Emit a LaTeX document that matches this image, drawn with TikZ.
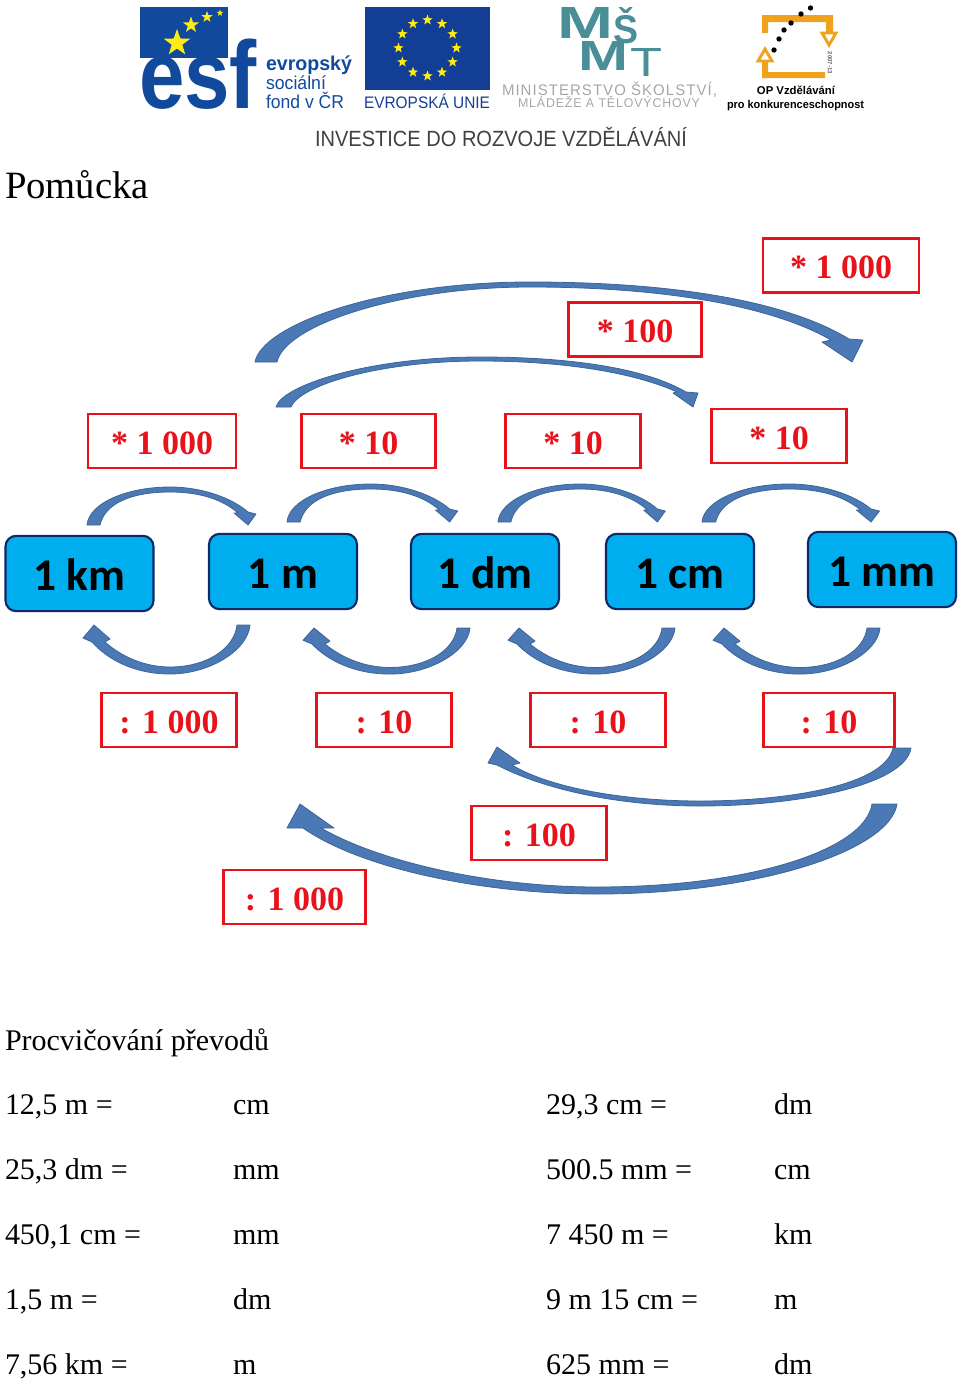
\documentclass[tikz,border=0pt]{standalone}
\usepackage{fontspec}
\usepackage{graphicx}
\setmainfont{Liberation Serif}
\newfontfamily\lsans{Liberation Sans}
\newfontfamily\lsansw[LetterSpace=7]{Liberation Sans}
\newfontfamily\carl{Carlito}
\usetikzlibrary{calc}
\definecolor{esfblue}{HTML}{114A9C}
\definecolor{eublue}{HTML}{123F95}
\definecolor{starY}{HTML}{FFEB14}
\definecolor{msmt}{HTML}{4A8F98}
\definecolor{opor}{HTML}{EFA21E}
\definecolor{arrowfill}{HTML}{4A79B6}
\definecolor{arrowedge}{HTML}{3D6596}
\definecolor{unitfill}{HTML}{00AEEF}
\definecolor{unitedge}{HTML}{0B2A66}
\definecolor{labred}{HTML}{E8121A}
\newcommand{\fs}[1]{\fontsize{#1}{#1}\selectfont}
\newcommand{\fitw}[2]{\resizebox{\dimexpr #1pt*3/4\relax}{\height}{#2}}
\newcommand{\fitwh}[3]{\resizebox{\dimexpr #1pt*3/4\relax}{\dimexpr #2pt*3/4\relax}{#3}}
\newcommand{\estar}[4]{\fill[#4,shift={(#1,#2)}] (-90:#3) -- (-54:{.4*#3}) -- (-18:#3) -- (18:{.4*#3}) -- (54:#3) -- (90:{.4*#3}) -- (126:#3) -- (162:{.4*#3}) -- (198:#3) -- (234:{.4*#3}) -- cycle;}
\newcommand{\arcup}[2]{\begin{scope}[shift={(#1)},xscale=#2]
\filldraw[bluearrow] (0,0) .. controls (2,-22) and (40,-38) .. (83,-38) .. controls (115,-38) and (145,-27) .. (161,-13) -- (169,-11) -- (161,0) -- (147,-12) -- (151,-12) .. controls (135,-26) and (112,-33) .. (83,-33) .. controls (45,-33) and (18,-22) .. (13,0) -- cycle;
\end{scope}}
\newcommand{\arcdown}[2]{\begin{scope}[shift={(#1)},yscale=#2]
\filldraw[bluearrow] (0,0) .. controls (-2,25) and (-40,49) .. (-80,49) .. controls (-115,49) and (-142,35) .. (-158,17) -- (-167,13) -- (-156,0) -- (-140,14) -- (-145,17) .. controls (-128,32) and (-105,42) .. (-80,42) .. controls (-45,42) and (-16,25) .. (-13,0) -- cycle;
\end{scope}}
\tikzset{
 bluearrow/.style={fill=arrowfill,draw=arrowedge,line width=0.6pt,line join=round},
 unitbox/.style={draw=unitedge,fill=unitfill,line width=1.6pt,rounded corners=8pt,minimum width=111pt,minimum height=56.5pt,inner sep=0pt,text=black,font=\carl\bfseries\fs{34},text height=24.8pt,text depth=0pt},
 opbox/.style={draw=labred,line width=2.2pt,inner sep=0pt,text=labred,font=\bfseries\fs{25.5},minimum height=40.5pt,text height=20pt,text depth=0pt},
 plain/.style={anchor=base west,inner sep=0pt,outer sep=0pt},
 bodytext/.style={plain,font=\fs{22.5}},
 logotext/.style={plain,font=\lsans}
}
\begin{document}
\begin{tikzpicture}[x=0.75pt,y=-0.75pt]
\useasboundingbox (0,0) rectangle (960,1381);
% ESF logo
\fill[esfblue] (140,7) rectangle (228,58);
\estar{177}{43}{14}{starY}
\estar{191}{25}{8.5}{starY}
\estar{207}{17}{6}{starY}
\estar{220}{13}{3.5}{starY}
\node[logotext,text=esfblue] (esf) at (139,108) {\fitw{118}{\fs{72}\bfseries esf}};
\node[logotext,text=esfblue] (esf1) at (266,70) {\fitw{86}{\fs{15}\bfseries evropský}};
\node[logotext,text=esfblue] (esf2) at (266,89) {\fitw{60}{\fs{14}sociální}};
\node[logotext,text=esfblue] (esf3) at (266,108) {\fitw{78}{\fs{14}fond v ČR}};
% EU flag
\fill[eublue] (365,7) rectangle (490,90);
\foreach \a in {0,30,...,330}{\estar{{427.5+29*cos(\a)}}{{48+28*sin(\a)}}{5.5}{starY}}
\node[logotext,text=eublue] (eu) at (364,108) {\fitw{126}{\fs{12.5}EVROPSKÁ UNIE}};
% MSMT logo
\node[logotext,text=msmt] (msa) at (557,38) {\fitwh{56}{31}{\fs{30}\bfseries M}};
\node[logotext,text=msmt] (msb) at (613,43) {\fitwh{25}{36}{\fs{30}\bfseries Š}};
\node[logotext,text=msmt] (msc) at (578,70) {\fitwh{50}{29}{\fs{30}\bfseries M}};
\node[logotext,text=msmt] (msd) at (630,76) {\fitwh{32}{28}{\fs{30}T}};
\node[logotext,text=black!35] (ms1) at (502,95) {\fitw{215}{\lsansw\fs{11.5}MINISTERSTVO ŠKOLSTVÍ,}};
\node[logotext,text=black!35] (ms2) at (518,107) {\fitw{182}{\lsansw\fs{9.5}MLÁDEŽE A TĚLOVÝCHOVY}};
% OP logo
\fill[opor] (762,15) rectangle (833,22) (762,15) rectangle (768,33) (826,15) rectangle (833,33) (762,62) rectangle (768,78) (762,72) rectangle (825,78);
\draw[opor,line width=2.2pt,line join=miter,fill=white] (758,61) -- (765,49) -- (772,61) -- cycle;
\draw[opor,line width=2.2pt,line join=miter,fill=white] (822,33) -- (829,45) -- (836,33) -- cycle;
\foreach \x/\y in {810.5/8,801/14,791/23,784/30,779/39,774/50}{\fill[black] (\x,\y) circle (2.7);}
\node[inner sep=0pt,rotate=-90,text=black!60,font=\lsans\bfseries\fs{4.5}] (opy) at (830,63) {2007-13};
\node[logotext,anchor=base,font=\lsans\bfseries\fs{8.5}] (op1) at (796,94) {OP Vzdělávání};
\node[logotext,font=\lsans\bfseries] (op2) at (727,108) {\fitw{137}{\fs{8.5}pro konkurenceschopnost}};
\node[logotext,text=black!75] (inv) at (315,146) {\fitw{372}{\fs{16.5}INVESTICE DO ROZVOJE VZDĚLÁVÁNÍ}};
% Title
\node[plain,font=\fs{29}] (title) at (5,198) {Pomůcka};
% Units
\node[unitbox] (km) at (79.5,573.5) {1 km};
\node[unitbox] (m) at (283,571.5) {1 m};
\node[unitbox] (dm) at (485,571.5) {1 dm};
\node[unitbox] (cm) at (680,571.5) {1 cm};
\node[unitbox] (mm) at (882,569.5) {1 mm};
% Small arrows
\coordinate (u1) at (87,525);
\coordinate (u2) at (287,522);
\coordinate (u3) at (498,522);
\coordinate (u4) at (702,522);
\arcup{u1}{1}\arcup{u2}{1.01}\arcup{u3}{.99}\arcup{u4}{1.05}
\coordinate (d1) at (250,625);
\coordinate (d2) at (470,628);
\coordinate (d3) at (675,628);
\coordinate (d4) at (880,628);
\arcdown{d1}{1}\arcdown{d2}{.94}\arcdown{d3}{.94}\arcdown{d4}{.94}
% Large arrows
\filldraw[bluearrow] (255,362) .. controls (262,325) and (380,282) .. (530,282) .. controls (670,282) and (785,300) .. (849,339) -- (863,340) -- (852,362) -- (822,342) -- (831,340) .. controls (770,305) and (660,287) .. (530,287) .. controls (400,287) and (285,325) .. (277,362) -- cycle;
\filldraw[bluearrow] (276,407) .. controls (282,385) and (370,357) .. (480,357) .. controls (570,357) and (645,368) .. (686,392) -- (698,393) -- (693,407) -- (673,393) -- (677,392) .. controls (635,373) and (565,361) .. (480,361) .. controls (380,361) and (300,385) .. (291,407) -- cycle;
\filldraw[bluearrow] (911,748) .. controls (905,785) and (800,806) .. (700,806) .. controls (620,806) and (545,790) .. (497,765) -- (488,763) -- (497,747) -- (520,763) -- (512,765) .. controls (550,788) and (625,801) .. (700,801) .. controls (790,801) and (885,785) .. (893,748) -- cycle;
\filldraw[bluearrow] (897,804) .. controls (890,850) and (760,894) .. (597,894) .. controls (480,894) and (360,868) .. (303,828) -- (287,828) -- (300,804) -- (334,828) -- (321,828) .. controls (380,862) and (490,887) .. (597,887) .. controls (750,887) and (865,850) .. (872,804) -- cycle;
% Operation labels
\node[opbox,minimum width=117pt] (o1) at (841,265.5) {* 1 000};
\node[opbox,minimum width=100pt] (o2) at (635,329.5) {* 100};
\node[opbox,minimum width=111pt] (o3) at (162,441) {* 1 000};
\node[opbox,minimum width=101pt] (o4) at (368.5,441) {* 10};
\node[opbox,minimum width=101pt] (o5) at (573,441) {* 10};
\node[opbox,minimum width=101pt] (o6) at (779,436) {* 10};
\node[opbox,minimum width=101pt] (o7) at (169,720) {: 1 000};
\node[opbox,minimum width=101pt] (o8) at (384,720) {: 10};
\node[opbox,minimum width=101pt] (o9) at (598,720) {: 10};
\node[opbox,minimum width=98pt] (o10) at (829,720) {: 10};
\node[opbox,minimum width=101pt] (o11) at (539,833) {: 100};
\node[opbox,minimum width=107pt] (o12) at (294.5,897) {: 1 000};
% Exercises
\node[bodytext] (head) at (5,1050) {Procvičování převodů};
\node[bodytext] (a1) at (5,1114) {12,5 m =};
\node[bodytext] (a1u) at (233,1114) {cm};
\node[bodytext] (b1) at (546,1114) {29,3 cm =};
\node[bodytext] (b1u) at (774,1114) {dm};
\node[bodytext] (a2) at (5,1179) {25,3 dm =};
\node[bodytext] (a2u) at (233,1179) {mm};
\node[bodytext] (b2) at (546,1179) {500.5 mm =};
\node[bodytext] (b2u) at (774,1179) {cm};
\node[bodytext] (a3) at (5,1244) {450,1 cm =};
\node[bodytext] (a3u) at (233,1244) {mm};
\node[bodytext] (b3) at (546,1244) {7 450 m =};
\node[bodytext] (b3u) at (774,1244) {km};
\node[bodytext] (a4) at (5,1309) {1,5 m =};
\node[bodytext] (a4u) at (233,1309) {dm};
\node[bodytext] (b4) at (546,1309) {9 m 15 cm =};
\node[bodytext] (b4u) at (774,1309) {m};
\node[bodytext] (a5) at (5,1374) {7,56 km =};
\node[bodytext] (a5u) at (233,1374) {m};
\node[bodytext] (b5) at (546,1374) {625 mm =};
\node[bodytext] (b5u) at (774,1374) {dm};
\end{tikzpicture}
\end{document}
